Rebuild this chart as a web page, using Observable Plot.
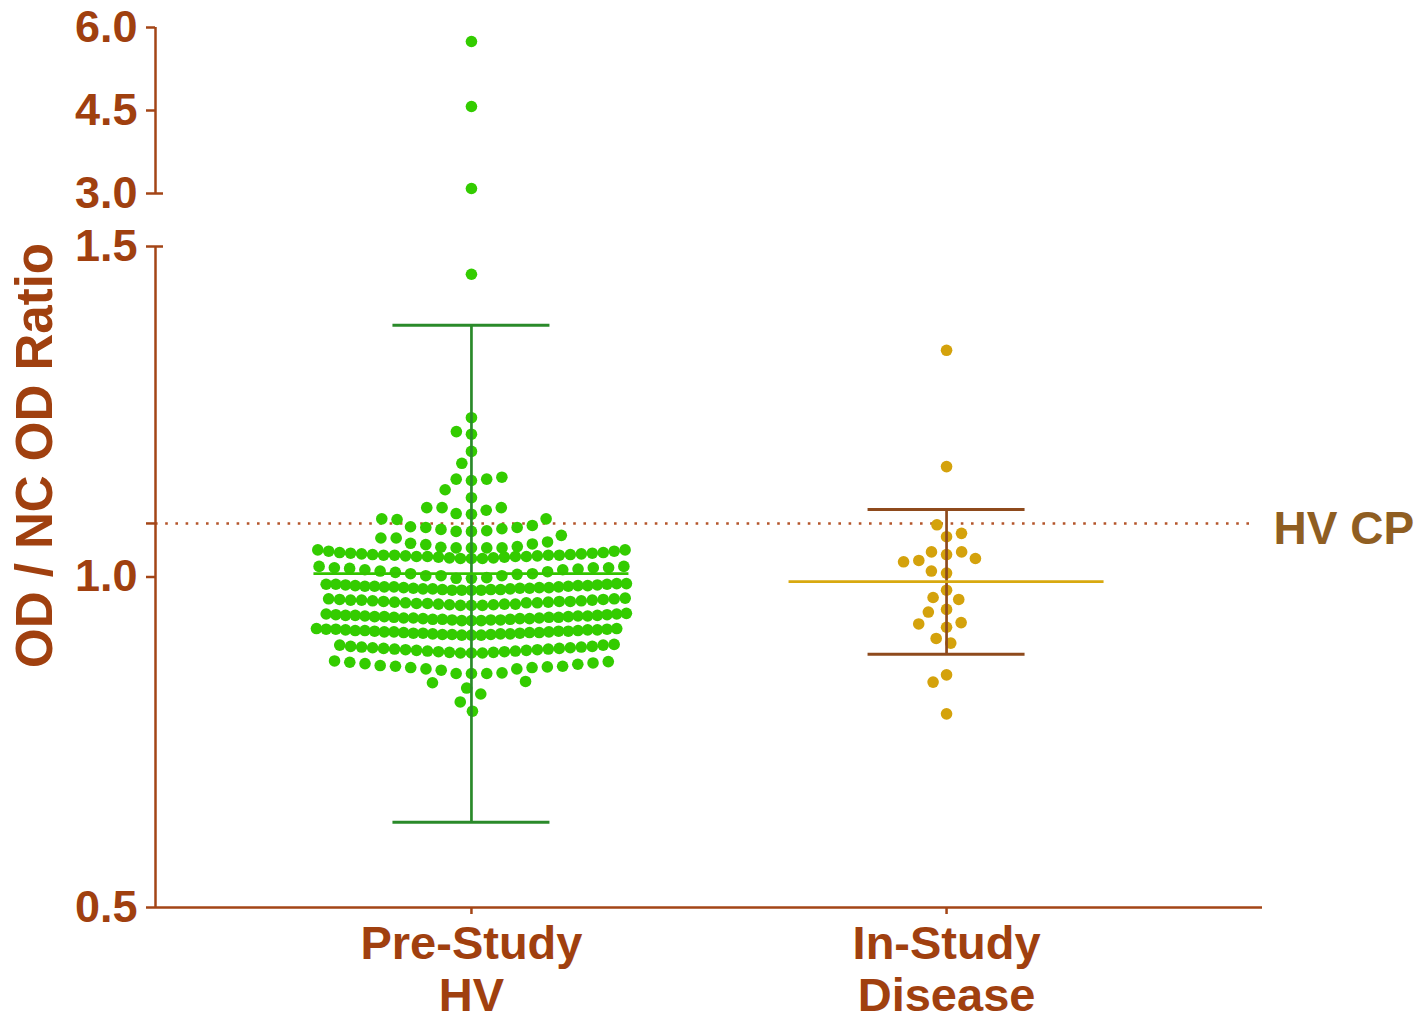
<!DOCTYPE html>
<html>
<head>
<meta charset="utf-8">
<script src="https://cdn.jsdelivr.net/npm/d3@7"></script>
<script src="https://cdn.jsdelivr.net/npm/@observablehq/plot@0.6"></script>
<style>
  html, body { margin: 0; padding: 0; background: #fff; }
</style>
</head>
<body>
<div id="chart"></div>
<script>
// ---------------- data ----------------
const groups = ["Pre-Study\nHV", "In-Study\nDisease"];
const yTicks = [0.5, 1.0, 1.5, 3.0, 4.5, 6.0];
const yBreak = [1.5, 3.0];
const hvCP = 1.081;

// Pre-Study HV: rows listed from the top of the swarm down, each row centre-out
const hvOutliers = [5.747, 4.572, 3.090, 1.458];
const hvTop = [1.241, 1.216, 1.220, 1.190, 1.172, 1.146, 1.148, 1.148, 1.151, 1.120, 1.132,
               1.095, 1.096, 1.101, 1.105, 1.105, 1.105];
const hvRow107 = [1.069, 1.069, 1.070, 1.072, 1.073, 1.075, 1.075, 1.076, 1.078, 1.087, 1.088, 1.088];
const hvRow105 = [1.044, 1.044, 1.044, 1.044, 1.045, 1.046, 1.049, 1.050, 1.051, 1.053, 1.059, 1.059, 1.063];
const hvRow103 = [1.028, 1.028, 1.028, 1.029, 1.029, 1.030, 1.030, 1.031, 1.031, 1.031, 1.031, 1.032, 1.032,
                  1.033, 1.033, 1.033, 1.033, 1.034, 1.034, 1.035, 1.035, 1.036, 1.036, 1.037, 1.037,
                  1.039, 1.039, 1.041, 1.041];
const hvRow101 = [0.998, 0.998, 0.999, 1.002, 1.002, 1.002, 1.004, 1.005, 1.005, 1.007, 1.008, 1.009,
                  1.011, 1.011, 1.012, 1.013, 1.014, 1.014, 1.014, 1.016, 1.016];
const hvRow098 = [0.980, 0.980, 0.980, 0.980, 0.981, 0.981, 0.981, 0.982, 0.982, 0.982, 0.983, 0.983,
                  0.983, 0.984, 0.984, 0.984, 0.985, 0.985, 0.985, 0.986, 0.986, 0.986, 0.987, 0.987,
                  0.987, 0.988, 0.988, 0.989, 0.989, 0.989, 0.990, 0.990];
const hvRow096 = [0.957, 0.957, 0.957, 0.958, 0.958, 0.959, 0.959, 0.959, 0.960, 0.960, 0.961, 0.961,
                  0.961, 0.962, 0.962, 0.963, 0.963, 0.963, 0.964, 0.964, 0.965, 0.965, 0.965, 0.966,
                  0.966, 0.967, 0.967, 0.968];
const hvRow094 = [0.934, 0.934, 0.934, 0.935, 0.935, 0.935, 0.936, 0.936, 0.936, 0.937, 0.937, 0.937,
                  0.938, 0.938, 0.938, 0.939, 0.939, 0.939, 0.940, 0.940, 0.940, 0.941, 0.941, 0.941,
                  0.942, 0.942, 0.942, 0.943, 0.943, 0.944, 0.944, 0.945];
const hvRow092 = [0.912, 0.912, 0.912, 0.913, 0.913, 0.913, 0.914, 0.914, 0.914, 0.915, 0.915, 0.915,
                  0.916, 0.916, 0.916, 0.917, 0.917, 0.917, 0.918, 0.918, 0.918, 0.919, 0.919, 0.919,
                  0.920, 0.920, 0.920, 0.921, 0.921, 0.921, 0.922, 0.922];
const hvRow089 = [0.885, 0.885, 0.885, 0.886, 0.886, 0.887, 0.887, 0.888, 0.888, 0.889, 0.889, 0.890,
                  0.890, 0.891, 0.891, 0.892, 0.892, 0.893, 0.893, 0.894, 0.894, 0.895, 0.895, 0.897,
                  0.897, 0.898];
const hvRow086 = [0.854, 0.854, 0.854, 0.855, 0.859, 0.861, 0.861, 0.863, 0.863, 0.864, 0.865, 0.865,
                  0.866, 0.868, 0.869, 0.870, 0.871, 0.872, 0.873];
const hvTail = [0.832, 0.840, 0.842, 0.823, 0.811, 0.797];

// In-Study Disease
const diseaseValues = [1.343, 1.167, 1.061, 1.034, 1.006, 0.980, 0.924, 0.793,
                       1.079, 1.066, 1.038, 1.038, 1.028, 1.025, 1.023, 1.009,
                       0.969, 0.966, 0.951, 0.947, 0.931, 0.929, 0.907, 0.900, 0.852, 0.841];

// summary lines (mean and error bar ends)
const means = [1.005, 0.993];
const errLow = [0.629, 0.883];
const errHigh = [1.381, 1.102];

// ---------------- layout & style ----------------
const W = 1419, H = 1021;
const mL = 155, mR = 157, mT = 27, mB = 114;
// broken y axis: 0.5–1.5 linear, a gap, then 3.0–6.0 compressed
const gapU = 53 / 661, upperK = (166 / 661) / 3;
const brk = v => v <= 1.5 ? v : 1.5 + gapU + (v - 3) * upperK;
const unbrk = t => t <= 1.5 + 1e-9 ? t : 3 + (t - 1.5 - gapU) / upperK;
const fmt = d3.format(".1f");
const xDomain = [-0.665, 1.665];
const unit = (W - mL - mR) / (xDomain[1] - xDomain[0]);
const xMid = (xDomain[0] + xDomain[1]) / 2;
const R = 5.5, Rshow = 5.8;
const FONT = "'Liberation Sans', Arial, Helvetica, sans-serif";
const TEXT = "#A0400F", AXIS = "#A34516", CP_LINE = "#B4552B", CP_TEXT = "#8F5E22";
const dotColors = ["#33CC00", "#D4A20C"];
const barColors = ["#2A8A2A", "#8E4A1C"];
const meanColors = ["#34C400", "#D8A910"];
const capHalf = 78.5 / unit, meanHalf = 157.5 / unit;

const hvSparse = [...hvOutliers, ...hvTop, ...hvRow107, ...hvRow105, ...hvRow101, ...hvRow086, ...hvTail];
const hvMedium = [...hvRow103, ...hvRow096, ...hvRow089];
const hvDense = [...hvRow098, ...hvRow094, ...hvRow092];

const summary = groups.map((g, i) => ({pos: i, mean: means[i], lo: errLow[i], hi: errHigh[i]}));

const swarm = (values, i, padding) =>
  Plot.dot(values, Plot.dodgeX({anchor: "middle", padding, r: R},
    {y: d => d, r: Rshow, fill: dotColors[i], dx: (i - xMid) * unit}));

const chart = Plot.plot({
  width: W, height: H,
  marginLeft: mL, marginRight: mR, marginTop: mT, marginBottom: mB,
  style: {fontFamily: FONT, background: "#fff", overflow: "visible"},
  x: {domain: xDomain, axis: null},
  y: {transform: brk, domain: [brk(0.5), brk(6.0)], axis: null},
  marks: [
    // HV cut point
    Plot.ruleY([hvCP], {y: d => d, x1: xDomain[0], x2: xDomain[1], insetRight: 8, stroke: CP_LINE,
      strokeWidth: 2.6, strokeDasharray: "2.6 7.6"}),
    // swarms
    swarm(hvSparse, 0, 4.3),
    swarm(hvMedium, 0, 0),
    swarm(hvDense, 0, -1.3),
    swarm(diseaseValues, 1, 4.3),
    // error bars and means
    ...summary.flatMap((s, i) => [
      Plot.ruleX([s], {x: "pos", y1: "lo", y2: "hi", stroke: barColors[i], strokeWidth: 2.7}),
      Plot.ruleY([s.lo, s.hi], {y: d => d, x1: s.pos - capHalf, x2: s.pos + capHalf,
        stroke: barColors[i], strokeWidth: 3}),
      Plot.ruleY([s], {y: "mean", x1: s.pos - meanHalf, x2: s.pos + meanHalf,
        stroke: meanColors[i], strokeWidth: 2.7})
    ]),
    // broken y axis line and x axis line
    Plot.ruleX([[0.5, 1.5], [3.0, 6.0]], {x: xDomain[0], y1: d => d[0], y2: d => d[1], stroke: AXIS, strokeWidth: 2.5}),
    Plot.ruleY(yBreak, {y: d => d, x1: xDomain[0], x2: xDomain[0] + 8 / unit, stroke: AXIS, strokeWidth: 2.5}),
    Plot.ruleY([0.5], {y: d => d, x1: xDomain[0], x2: xDomain[1], stroke: AXIS, strokeWidth: 2.5}),
    // axis tick marks are not passed through the scale transform, so give them broken-axis positions
    Plot.axisY({ticks: yTicks.map(brk), tickFormat: t => fmt(unbrk(t)), tickSize: 9, tickPadding: 9,
      fontSize: 45, fontWeight: "bold", fill: TEXT, stroke: AXIS, strokeWidth: 2.5, label: null}),
    Plot.axisY({ticks: [brk(hvCP)], tickFormat: () => "", tickSize: 9, stroke: AXIS, strokeWidth: 2.5, label: null}),
    Plot.axisX({ticks: [0, 1], tickFormat: i => groups[i], tickSize: 7, tickPadding: 8,
      fontSize: 47, fontWeight: "bold", lineHeight: 1.1, fill: TEXT, stroke: AXIS, strokeWidth: 2.5, label: null}),
    // titles
    Plot.text(["OD / NC OD Ratio"], {text: d => d, frameAnchor: "left", textAnchor: "middle", rotate: -90,
      dx: -120, dy: -12, fontSize: 51, fontWeight: "bold", fill: TEXT}),
    Plot.text(["HV CP"], {text: d => d, y: hvCP, frameAnchor: "right", textAnchor: "start", dx: 11, dy: 6,
      fontSize: 46, fontWeight: "bold", fill: CP_TEXT})
  ]
});
document.getElementById("chart").append(chart);
</script>
</body>
</html>
